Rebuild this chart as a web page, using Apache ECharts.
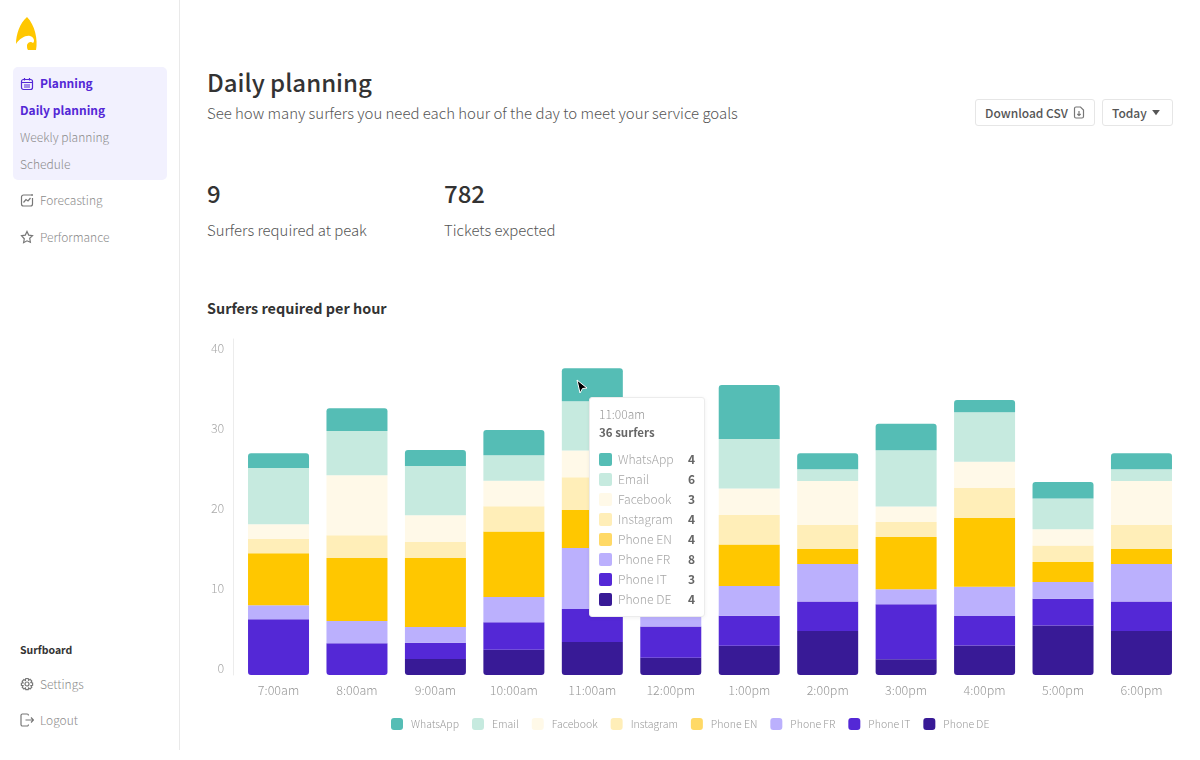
<!DOCTYPE html>
<html>
<head>
<meta charset="utf-8">
<title>Daily planning</title>
<script src="https://cdn.jsdelivr.net/npm/echarts@6/dist/echarts.min.js"></script>
<style>
  html, body { margin: 0; padding: 0; background: #fff; }
  body { width: 1200px; height: 760px; position: relative; overflow: hidden;
         font-family: "Noto Sans CJK SC", "Noto Sans", sans-serif; font-weight: 300; color: #555; }
  .t { position: absolute; white-space: nowrap; line-height: 24px; height: 24px; }
  .side-line { position: absolute; left: 179px; top: 0; width: 1px; height: 750px; background: #e9e9e9; }
  .panel { position: absolute; left: 13px; top: 67px; width: 154px; height: 113px; background: #f2f1fe; border-radius: 5px; }
  .nav { font-size: 12px; color: #8c8c8c; }
  .nav.on { color: #5428d6; font-weight: 600; }
  .btn { position: absolute; top: 99px; height: 25px; border: 1px solid #e6e6e6; border-radius: 3px; background: #fff; }
  .icon { position: absolute; fill: none; stroke: #777; stroke-width: 1.2; }
  #chart { position: absolute; left: 190px; top: 330px; width: 1010px; height: 420px; }
  .tip-row { display: flex; align-items: center; height: 20px; line-height: 20px; }
  .tip-row i { width: 13px; height: 13px; border-radius: 2px; margin-right: 6px; display: block; }
  .tip-row span { flex: 1; color: #a6a6a6; font-weight: 300; font-size: 12.2px; }
  .tip-row b { color: #666; font-weight: 600; font-size: 12px; }
</style>
</head>
<body>
<svg class="icon" style="left:15px;top:16px;fill:#ffc700;stroke:none" width="23" height="35" viewBox="0 0 23 35">
  <path d="M12 1 C5 7 1 18 1 28 C5 22 11 19 15 20 C19 21 20 25 18 27 C16 25 13 26 12 29 C12 31 12 33 13 34 L21 34 C23 24 20 9 12 1 Z"/>
</svg>
<div class="side-line"></div>
<div class="panel"></div>

<svg class="icon" style="left:20px;top:77px;stroke:#5428d6" width="14" height="14" viewBox="0 0 14 14">
  <rect x="1.5" y="2.5" width="11" height="10" rx="2"/><path d="M1.5 5.5h11M4.5 1v2.5M9.5 1v2.5M4 8h6M4 10h6"/>
</svg>
<div class="t nav on" style="left:40px;top:71px">Planning</div>
<div class="t nav on" style="left:20px;top:98px">Daily planning</div>
<div class="t nav" style="left:20px;top:125px">Weekly planning</div>
<div class="t nav" style="left:20px;top:152px">Schedule</div>
<svg class="icon" style="left:20px;top:193px" width="14" height="14" viewBox="0 0 14 14">
  <path d="M11 2H3.500A2 2 0 0 0 1.500 4v7a2 2 0 0 0 2 2h7a2 2 0 0 0 2-2V5M3.500 9.500l2.500-3 2 1.500 2.500-3"/><circle cx="12" cy="2" r="1" fill="#777" stroke="none"/>
</svg>
<div class="t nav" style="left:40px;top:188px">Forecasting</div>
<svg class="icon" style="left:20px;top:230px" width="14" height="14" viewBox="0 0 14 14">
  <path d="M7 1.500l1.700 3.600 3.800.5-2.800 2.700.7 3.900L7 10.800l-3.400 1.900.7-3.900L1.500 5.600l3.800-.5z"/>
</svg>
<div class="t nav" style="left:40px;top:225px">Performance</div>
<div class="t" style="left:20px;top:638px;font-size:10.5px;font-weight:600;color:#333">Surfboard</div>
<svg class="icon" style="left:20px;top:677px" width="14" height="14" viewBox="0 0 14 14">
  <circle cx="7" cy="7" r="2"/><path d="M5.800 1.500h2.400l.4 1.700 1.500-.9 1.700 1.700-.9 1.500 1.700.4v2.400l-1.700.4.900 1.500-1.700 1.700-1.500-.9-.4 1.700H5.800l-.4-1.700-1.500.9-1.700-1.700.9-1.500-1.700-.4V6.200l1.700-.4-.9-1.500 1.700-1.700 1.500.9z"/>
</svg>
<div class="t nav" style="left:40px;top:672px">Settings</div>
<svg class="icon" style="left:20px;top:713px" width="14" height="14" viewBox="0 0 14 14">
  <path d="M8.500 2.500V2.400a1.400 1.400 0 0 0-1.400-1.400H2.500A1.400 1.400 0 0 0 1 2.400v9.200A1.400 1.400 0 0 0 2.500 13h4.600a1.400 1.400 0 0 0 1.400-1.400v-.1M5.500 7h8M11 4.500L13.500 7 11 9.500"/>
</svg>
<div class="t nav" style="left:40px;top:708px">Logout</div>

<div class="t" style="left:207px;top:67px;height:30px;line-height:30px;font-size:24px;font-weight:500;color:#333">Daily planning</div>
<div class="t" style="left:207px;top:101px;font-size:14.95px;color:#555">See how many surfers you need each hour of the day to meet your service goals</div>

<div class="btn" style="left:975px;width:118px"></div>
<div class="t" style="left:985px;top:101px;font-size:12px;font-weight:500;color:#555">Download CSV</div>
<svg class="icon" style="left:1073px;top:106px" width="12" height="13" viewBox="0 0 12 13">
  <path d="M7.500 1H3a1.500 1.500 0 0 0-1.500 1.500v8A1.500 1.500 0 0 0 3 12h6a1.500 1.500 0 0 0 1.500-1.500V4zM6 5v4.500M4.300 8L6 9.500 7.700 8"/>
</svg>
<div class="btn" style="left:1102px;width:69px"></div>
<div class="t" style="left:1112px;top:101px;font-size:12px;font-weight:500;color:#555">Today</div>
<svg class="icon" style="left:1152px;top:110px;fill:#555;stroke:none" width="8" height="6" viewBox="0 0 9 7"><path d="M0 0h9L4.500 6z"/></svg>

<div class="t" style="left:207px;top:178px;height:30px;line-height:30px;font-size:24px;font-weight:500;color:#333">9</div>
<div class="t" style="left:207px;top:218px;font-size:14.9px;color:#555">Surfers required at peak</div>
<div class="t" style="left:444px;top:178px;height:30px;line-height:30px;font-size:24px;font-weight:500;color:#333">782</div>
<div class="t" style="left:444px;top:218px;font-size:14.9px;color:#555">Tickets expected</div>
<div class="t" style="left:207px;top:296px;font-size:14.4px;font-weight:600;color:#333">Surfers required per hour</div>

<div id="chart"></div>

<svg style="position:absolute;left:575px;top:379px;z-index:50" width="14" height="16" viewBox="0 0 14 16">
  <path d="M2 1L12 9L7.500 9.500L5 14Z" fill="#000" stroke="#fff" stroke-width="1"/>
</svg>

<script>
const hours = ['7:00am', '8:00am', '9:00am', '10:00am', '11:00am', '12:00pm', '1:00pm', '2:00pm', '3:00pm', '4:00pm', '5:00pm', '6:00pm'];
const yTicks = [0, 10, 20, 30, 40];

// in axis units. 12:00pm top segments sit behind the tooltip, estimated
const whatsapp = [1.83, 2.83, 2.0, 3.17, 4.13, 3.0, 6.75, 2.0, 3.3, 1.54, 2.08, 2.0];
const email = [7.04, 5.54, 6.17, 3.2, 6.17, 5.0, 6.17, 1.46, 7.04, 6.17, 3.83, 1.46];
const facebook = [1.83, 7.5, 3.33, 3.17, 3.33, 3.0, 3.33, 5.5, 1.92, 3.3, 2.04, 5.5];
const instagram = [1.8, 2.83, 2.0, 3.17, 4.08, 3.0, 3.67, 3.0, 1.88, 3.7, 2.08, 3.0];
const phoneEN = [6.5, 7.88, 8.63, 8.17, 4.75, 6.0, 5.2, 1.88, 6.54, 8.63, 2.5, 1.88];
const phoneFR = [1.75, 2.8, 1.96, 3.17, 7.63, 3.0, 3.7, 4.67, 1.88, 3.67, 2.08, 4.67];
const phoneIT = [6.96, 3.96, 2.04, 3.42, 4.13, 3.9, 3.75, 3.7, 6.88, 3.67, 3.33, 3.7];
const phoneDE = [0, 0, 2.0, 3.17, 4.13, 2.17, 3.67, 5.5, 1.96, 3.7, 6.2, 5.5];

const seriesNames = ['WhatsApp', 'Email', 'Facebook', 'Instagram', 'Phone EN', 'Phone FR', 'Phone IT', 'Phone DE'];
const seriesValues = [whatsapp, email, facebook, instagram, phoneEN, phoneFR, phoneIT, phoneDE];
const barColors = ['#55bdb5', '#c6eadf', '#fff9e8', '#ffeeb8', '#ffc700', '#bbb0fd', '#5428d6', '#381a96'];
const legendColors = ['#55bdb5', '#c6eadf', '#fff9e8', '#ffeeb8', '#ffd966', '#bbb0fd', '#5428d6', '#381a96'];

// what the open tooltip says for 11:00am
const tipTitle = '11:00am';
const tipTotal = '36 surfers';
const tipCounts = [4, 6, 3, 4, 4, 8, 3, 4];

const FONT = '"Noto Sans CJK SC", "Noto Sans", sans-serif';

const chart = echarts.init(document.getElementById('chart'));

function tipHtml() {
  let rows = '';
  seriesNames.forEach((name, i) => {
    rows += '<div class="tip-row"><i style="background:' + legendColors[i] + '"></i><span>' + name + '</span><b>' + tipCounts[i] + '</b></div>';
  });
  return '<div style="font-size:12px;line-height:18px;color:#999;font-weight:300">' + tipTitle + '</div>'
    + '<div style="font-size:11.5px;line-height:18px;color:#666;font-weight:600;margin-bottom:8px">' + tipTotal + '</div>'
    + rows;
}

function barData(values, s) {
  return values.map((v, i) => {
    const isBottom = s === 7 || (s === 6 && phoneDE[i] === 0);
    const r = s === 0 ? [3, 3, 0, 0] : isBottom ? [0, 0, 3, 3] : 0;
    return { value: v, itemStyle: { borderRadius: r } };
  });
}

// stacked from the bottom, so the last name goes in first
const series = seriesNames.map((name, i) => ({
  name: name,
  type: 'bar',
  stack: 'surfers',
  barWidth: 61,
  itemStyle: { color: barColors[i] },
  data: barData(seriesValues[i], i),
})).reverse();

chart.setOption({
  animation: false,
  textStyle: { fontFamily: FONT },
  grid: { left: 49.3, right: 19.3, top: 9, height: 336 },
  tooltip: {
    trigger: 'item',
    alwaysShowContent: true,
    transitionDuration: 0,
    position: [399, 67],
    padding: [7, 9, 7, 9],
    backgroundColor: '#fff',
    borderColor: '#ececec',
    borderWidth: 1,
    extraCssText: 'width:96px;height:204px;border-radius:3px;box-shadow:0 1px 4px rgba(0,0,0,0.06);font-family:' + "'Noto Sans CJK SC'" + ';font-size:12px;',
    formatter: tipHtml,
  },
  legend: {
    data: seriesNames.map((name, i) => ({ name: name, itemStyle: { color: legendColors[i] } })),
    top: 383,
    left: 196,
    icon: 'roundRect',
    itemWidth: 12,
    itemHeight: 12,
    itemGap: 13,
    textStyle: { color: '#999', fontSize: 10.5, fontWeight: 300, fontFamily: FONT, padding: [0, 0, 0, 3] },
  },
  xAxis: {
    type: 'category',
    data: hours,
    axisLine: { show: false },
    axisTick: { show: false },
    axisLabel: { color: '#999', fontSize: 12.5, fontWeight: 300, margin: 9, fontFamily: FONT },
  },
  yAxis: {
    type: 'value',
    min: yTicks[0],
    max: 42,
    interval: yTicks[1] - yTicks[0],
    offset: 6,
    splitLine: { show: false },
    axisTick: { show: false },
    axisLine: { show: true, lineStyle: { color: '#ececec', width: 1 } },
    axisLabel: { color: '#aaa', fontSize: 12.5, fontWeight: 300, margin: 9, verticalAlign: 'bottom', showMaxLabel: false, fontFamily: FONT },
  },
  series: series,
});

chart.dispatchAction({ type: 'showTip', seriesIndex: 7, dataIndex: 4 });
</script>
</body>
</html>
